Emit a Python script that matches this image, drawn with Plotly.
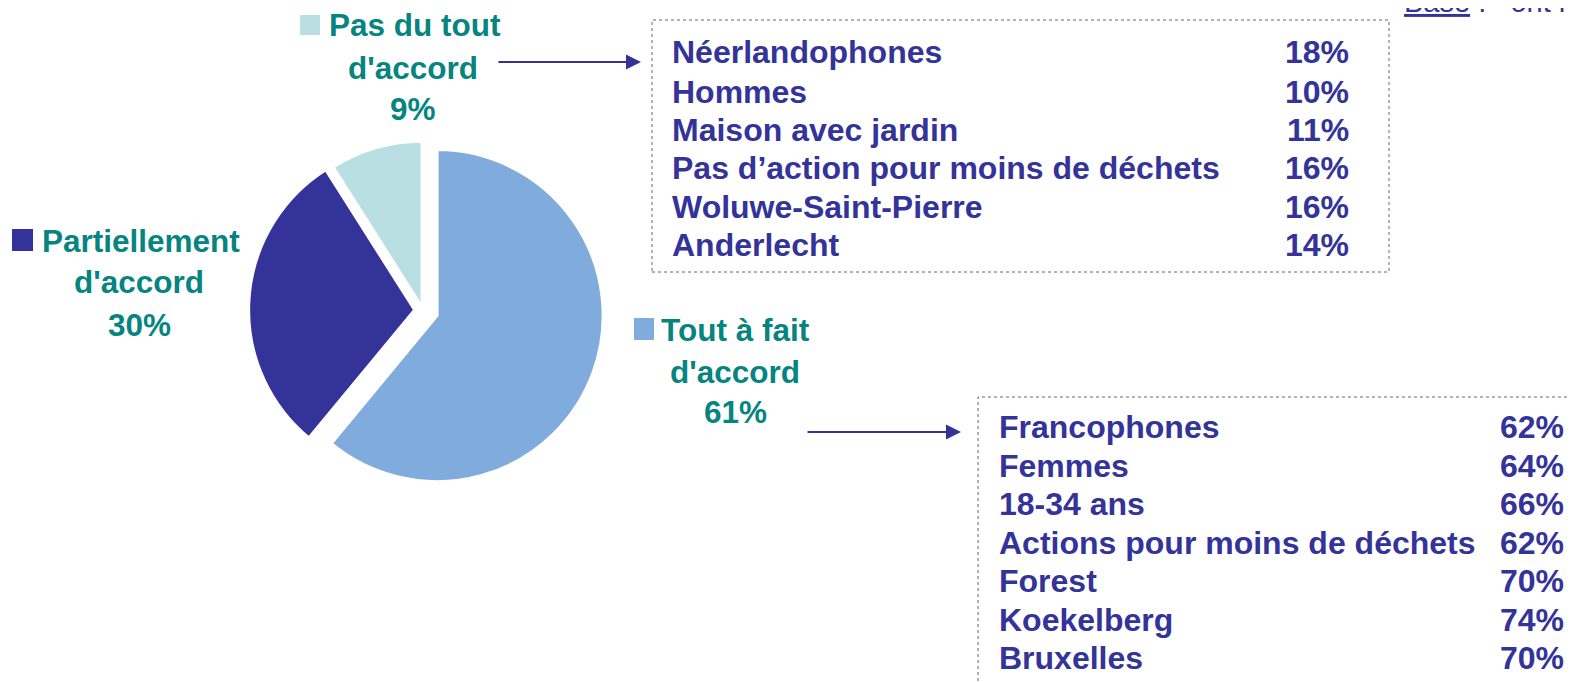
import plotly.graph_objects as go

W, H = 1577, 682
OFF = 8  # page body margin

# ---- data ----
categories = ["Tout à fait d'accord", "Partiellement d'accord", "Pas du tout d'accord"]
values = [61, 30, 9]
slice_colors = ["#7FACDD", "#333399", "#B9DFE3"]

box1_labels = ["Néerlandophones", "Hommes", "Maison avec jardin",
               "Pas d’action pour moins de déchets", "Woluwe-Saint-Pierre", "Anderlecht"]
box1_values = ["18%", "10%", "11%", "16%", "16%", "14%"]

box2_labels = ["Francophones", "Femmes", "18-34 ans", "Actions pour moins de déchets",
               "Forest", "Koekelberg", "Bruxelles"]
box2_values = ["62%", "64%", "66%", "62%", "70%", "74%", "70%"]

TEAL = "#068580"
BLUE = "#333399"
FONT = "Arial, 'Liberation Sans', sans-serif"
FS_BOX = 32
FS_LAB = 31.5


def px(x):
    return (x - OFF) / W


def py(y):
    return 1 - (y - OFF) / H


fig = go.Figure()
fig.add_trace(go.Pie(
    labels=categories, values=values, sort=False, direction="clockwise", rotation=0,
    marker=dict(colors=slice_colors, line=dict(color="white", width=3)),
    pull=[0.09, 0.05, 0.02], textinfo="none", hoverinfo="label+percent",
    domain=dict(x=[px(423 - 181), px(423 + 181)], y=[py(310.5 + 181), py(310.5 - 181)]),
    showlegend=False,
))

ann = []
shapes = []


def text(x, y, s, color, anchor="center", size=FS_BOX):
    ann.append(dict(x=px(x), y=py(y), xref="paper", yref="paper", text=f"<b>{s}</b>",
                    showarrow=False, xanchor=anchor, yanchor="middle",
                    font=dict(family=FONT, size=size, color=color)))


# teal slice labels
label_blocks = [
    (["Pas du tout", "d'accord", f"{values[2]}%"], [(415, 25), (413, 68), (413, 109)], (300, 15, 320, 35), slice_colors[2]),
    (["Partiellement", "d'accord", f"{values[1]}%"], [(141, 241), (139, 282), (139, 325)], (12, 229, 33, 251), slice_colors[1]),
    (["Tout à fait", "d'accord", f"{values[0]}%"], [(735, 330), (735, 372), (735, 412)], (634, 318, 654, 340), slice_colors[0]),
]
for lines, pos, sq, col in label_blocks:
    for s, (x, y) in zip(lines, pos):
        text(x, y, s, TEAL, size=FS_LAB)
    shapes.append(dict(type="rect", xref="paper", yref="paper", x0=px(sq[0]), x1=px(sq[2]),
                       y0=py(sq[3]), y1=py(sq[1]), fillcolor=col, line=dict(width=0)))

# boxes
shapes.append(dict(type="rect", xref="paper", yref="paper", x0=px(652), x1=px(1389), y0=py(272), y1=py(20),
                   line=dict(color="#666666", width=1, dash="dot")))
shapes.append(dict(type="rect", xref="paper", yref="paper", x0=px(978), x1=px(1620), y0=py(740), y1=py(397),
                   line=dict(color="#666666", width=1, dash="dot")))

box1_y = [52, 91.5, 130, 168, 207, 245]
for lab, val, y in zip(box1_labels, box1_values, box1_y):
    text(670, y, lab, BLUE, "left")
    text(1351, y, val, BLUE, "right")

box2_y = [427, 466, 504, 543, 581, 620, 658]
for lab, val, y in zip(box2_labels, box2_values, box2_y):
    text(997, y, lab, BLUE, "left")
    text(1566, y, val, BLUE, "right")

# arrows
for (x0, x1, y) in [(497, 641, 62), (806, 961, 432)]:
    ann.append(dict(x=px(x1), y=py(y), ax=-(x1 - x0), ay=0, xref="paper", yref="paper",
                    text="", showarrow=True,
                    arrowhead=2, arrowsize=1.5, arrowwidth=2, arrowcolor=BLUE))

# base text (cropped at top)
ann.append(dict(x=px(1402), y=py(1.5), xref="paper", yref="paper",
                text="<u>Base</u> :   ont répondu", showarrow=False, xanchor="left", yanchor="middle",
                font=dict(family=FONT, size=29, color=BLUE)))

fig.update_layout(width=W, height=H, margin=dict(l=0, r=0, t=0, b=0),
                  paper_bgcolor="white", plot_bgcolor="white",
                  annotations=ann, shapes=shapes)

fig.write_html("out.html")
